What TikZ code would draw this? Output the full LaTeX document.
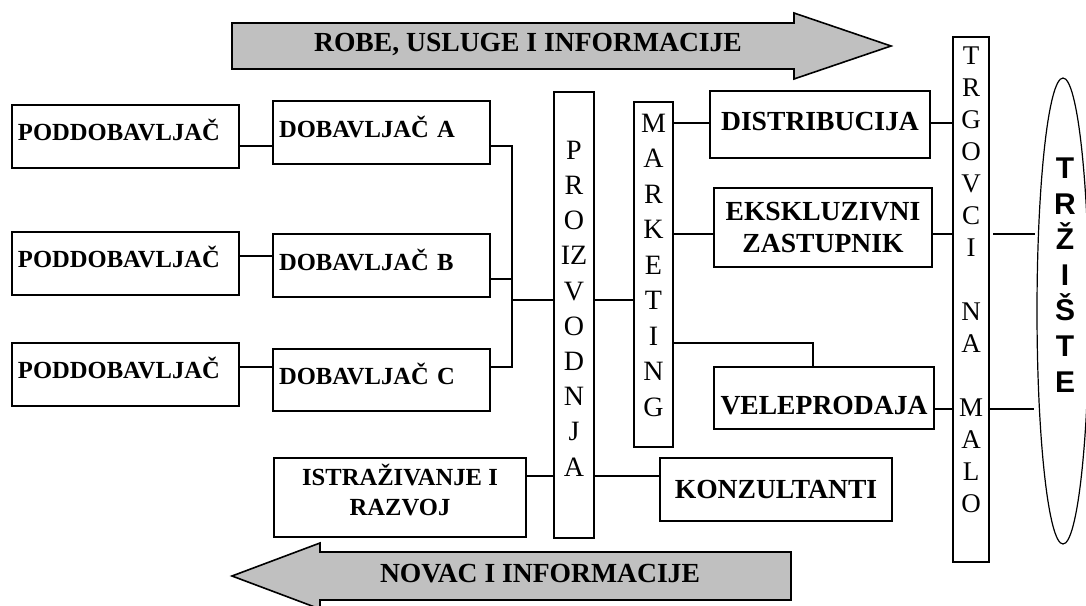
\documentclass[tikz,border=0pt]{standalone}
\usepackage{fontspec}
\setmainfont{Liberation Serif}
\newfontfamily\trzfont{Liberation Sans}
\usepackage{tikz}
\usetikzlibrary{shapes.geometric,positioning}
\definecolor{Flowgray}{HTML}{C0C0C0}
\tikzset{
every node/.style={inner sep=0pt},
smallbox/.style={rectangle,draw,line width=1pt,inner xsep=3pt,font=\fontsize{12.3}{15}\selectfont\bfseries},
bigbox/.style={rectangle,draw,line width=1pt,align=center,font=\fontsize{13.8}{16}\selectfont\bfseries},
column/.style={rectangle,draw,line width=1pt},
letters/.style={align=center,font=\fontsize{14}{17.6}\selectfont},
flow/.style={draw,line width=0.8pt,fill=Flowgray},
flowtext/.style={font=\fontsize{13.8}{16}\selectfont\bfseries}
}

\begin{document}
\begin{tikzpicture}[x=0.5pt,y=-0.5pt,line width=1pt]
\useasboundingbox (0,0) rectangle (1086,605);

% tokovi
\draw[flow] (232,23) -- (794,23) -- (794,13) -- (891,46) -- (794,79) -- (794,69) -- (232,69) -- cycle;
\node[flowtext] (robe) at (528,44) {ROBE, USLUGE I INFORMACIJE};
\draw[flow] (791,552) -- (320,552) -- (320,543) -- (232,576) -- (320,609) -- (320,600) -- (791,600) -- cycle;
\node[flowtext] (novac) at (540,574) {NOVAC I INFORMACIJE};

\node[smallbox,text width=107.5pt,align=left,text depth=7pt,minimum height=31.5pt] (podd1) at (125.5,136.5) {PODDOBAVLJAČ};
\node[smallbox,text width=107.5pt,align=left,text depth=7pt,minimum height=31.5pt] (podd2) at (125.5,263.5) {PODDOBAVLJAČ};
\node[smallbox,text width=107.5pt,align=left,text depth=7pt,minimum height=31.5pt] (podd3) at (125.5,374.5) {PODDOBAVLJAČ};

\node[smallbox,text width=102.5pt,align=left,text depth=6pt,minimum height=31.5pt] (dob1) at (381.5,132.5) {DOBAVLJAČ A};
\node[smallbox,text width=102.5pt,align=left,text depth=6pt,minimum height=31.5pt] (dob2) at (381.5,265.5) {DOBAVLJAČ B};
\node[smallbox,text width=102.5pt,align=left,text depth=6pt,minimum height=31pt] (dob3) at (381.5,380) {DOBAVLJAČ C};

\node[smallbox,align=center,text depth=7.5pt,minimum width=126pt,minimum height=39.5pt] (istr) at (400,497.5) {ISTRAŽIVANJE I\\RAZVOJ};

\node[column,minimum width=20pt,minimum height=223pt] (proiz) at (574,315) {};
\node[letters] (proiztext) at (574,308.5) {P\\R\\O\\IZ\\V\\O\\D\\N\\J\\A};

\node[column,minimum width=19.5pt,minimum height=172.5pt] (mark) at (653.5,274.5) {};
\node[letters,font=\fontsize{14}{17.75}\selectfont] (marktext) at (653.5,265) {M\\A\\R\\K\\E\\T\\I\\N\\G};

\node[bigbox,text depth=3.5pt,minimum width=110pt,minimum height=33.5pt] (dist) at (820,124.5) {DISTRIBUCIJA};
\node[bigbox,minimum width=109pt,minimum height=39.5pt] (eksk) at (823,227.5) {EKSKLUZIVNI\\ZASTUPNIK};
\node[bigbox,text height=16pt,text depth=0pt,minimum width=110pt,minimum height=31pt] (vele) at (824,398) {VELEPRODAJA};
\node[bigbox,minimum width=116pt,minimum height=31.5pt] (konz) at (776,489.5) {KONZULTANTI};

\node[column,minimum width=18pt,minimum height=262.5pt] (trg) at (971,299.5) {};
\node[letters,font=\fontsize{13.5}{16}\selectfont] (trgtext) at (971,280) {T\\R\\G\\O\\V\\C\\I\\~\\N\\A\\~\\M\\A\\L\\O};

\node[ellipse,draw,line width=0.6pt,minimum width=26pt,minimum height=233pt] (trziste) at (1063,311) {};
\node[align=center,font=\trzfont\bfseries\fontsize{15}{17.8}\selectfont] (trzistetext) at (1065,275) {T\\R\\Ž\\I\\Š\\T\\E};

% veze
\foreach \i/\y in {1/146,2/256,3/367}
  \draw (podd\i.east |- 0,\y) -- (dob\i.west |- 0,\y);

\coordinate (bus) at (512,300);
\foreach \i/\y in {1/146,2/279,3/367}
  \draw (dob\i.east |- 0,\y) -| (bus);
\draw (bus) -- (bus -| proiz.west);
\draw (proiz.east |- bus) -- (mark.west |- bus);

\draw (mark.east |- 0,123) -- (dist.west |- 0,123);
\draw (mark.east |- 0,234) -- (eksk.west |- 0,234);
\draw (mark.east |- 0,343) -| (vele.north -| 813,0);

\draw (dist.east |- 0,123) -- (trg.west |- 0,123);
\draw (eksk.east |- 0,234) -- (trg.west |- 0,234);
\draw (vele.east |- 0,409) -- (trg.west |- 0,409);

\draw[shorten <=1.5pt,shorten >=0.8pt] (trg.east |- 0,234) -- (trziste.west |- 0,234);
\draw[shorten >=1.2pt] (trg.east |- 0,409) -- (trziste.west |- 0,409);

\draw (istr.east |- 0,476) -- (proiz.west |- 0,476);
\draw (proiz.east |- 0,476) -- (konz.west |- 0,476);
\end{tikzpicture}
\end{document}
